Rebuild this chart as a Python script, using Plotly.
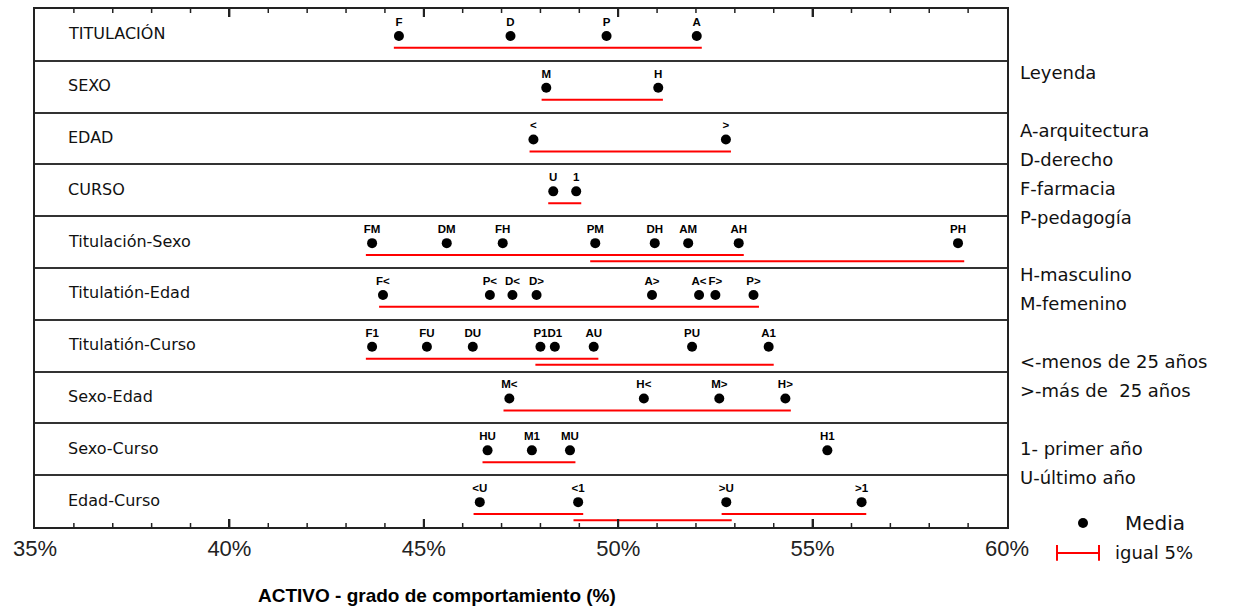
import plotly.graph_objects as go

# ---------------- data ----------------
row_names = ["TITULACIÓN", "SEXO", "EDAD", "CURSO", "Titulación-Sexo",
             "Titulatión-Edad", "Titulatión-Curso", "Sexo-Edad", "Sexo-Curso", "Edad-Curso"]

titulacion_labels = ["F", "D", "P", "A"]
titulacion_values = [44.36, 47.23, 49.70, 52.02]
titulacion_lines = [[44.23, 52.15]]

sexo_labels = ["M", "H"]
sexo_values = [48.15, 51.03]
sexo_lines = [[48.03, 51.15]]

edad_labels = ["<", ">"]
edad_values = [47.82, 52.77]
edad_lines = [[47.72, 52.90]]

curso_labels = ["U", "1"]
curso_values = [48.33, 48.92]
curso_lines = [[48.20, 49.05]]

tit_sexo_labels = ["FM", "DM", "FH", "PM", "DH", "AM", "AH", "PH"]
tit_sexo_values = [43.67, 45.59, 47.03, 49.41, 50.94, 51.80, 53.10, 58.74]
tit_sexo_lines = [[43.51, 53.23], [49.28, 58.90]]

tit_edad_labels = ["F<", "P<", "D<", "D>", "A>", "A<", "F>", "P>"]
tit_edad_values = [43.95, 46.70, 47.28, 47.90, 50.87, 52.08, 52.50, 53.48]
tit_edad_lines = [[43.85, 53.62]]

tit_curso_labels = ["F1", "FU", "DU", "P1", "D1", "AU", "PU", "A1"]
tit_curso_values = [43.67, 45.08, 46.26, 48.00, 48.37, 49.37, 51.90, 53.87]
tit_curso_lines = [[43.51, 49.49], [47.87, 54.00]]

sexo_edad_labels = ["M<", "H<", "M>", "H>"]
sexo_edad_values = [47.20, 50.66, 52.60, 54.30]
sexo_edad_lines = [[47.05, 54.44]]

sexo_curso_labels = ["HU", "M1", "MU", "H1"]
sexo_curso_values = [46.64, 47.78, 48.76, 55.38]
sexo_curso_lines = [[46.51, 48.90]]

edad_curso_labels = ["<U", "<1", ">U", ">1"]
edad_curso_values = [46.44, 48.97, 52.78, 56.26]
edad_curso_lines = [[46.28, 49.10], [48.85, 52.92], [52.66, 56.38]]

x_range = [35, 60]
x_major_step = 5
x_minor_step = 1
x_tick_suffix = "%"
x_title = "ACTIVO - grado de comportamiento (%)"

legend_texts = ["Leyenda", "A-arquitectura", "D-derecho", "F-farmacia", "P-pedagogía",
                "H-masculino", "M-femenino", "<-menos de 25 años", ">-más de  25 años",
                "1- primer año", "U-último año"]

groups = [
    (titulacion_labels, titulacion_values, titulacion_lines),
    (sexo_labels, sexo_values, sexo_lines),
    (edad_labels, edad_values, edad_lines),
    (curso_labels, curso_values, curso_lines),
    (tit_sexo_labels, tit_sexo_values, tit_sexo_lines),
    (tit_edad_labels, tit_edad_values, tit_edad_lines),
    (tit_curso_labels, tit_curso_values, tit_curso_lines),
    (sexo_edad_labels, sexo_edad_values, sexo_edad_lines),
    (sexo_curso_labels, sexo_curso_values, sexo_curso_lines),
    (edad_curso_labels, edad_curso_values, edad_curso_lines),
]

# ---------------- figure ----------------
W, H = 1239, 609
ML, MR, MT, MB = 35, 232, 7, 82
PW, PH = W - ML - MR, H - MT - MB
n_rows = len(row_names)

def px_x(px):
    return (px - ML) / PW

def px_y(py):
    return (H - MB - py) / PH

fig = go.Figure()
RED = "#ff0000"
annotations = []

for i, (labels, values, lines) in enumerate(groups):
    top = n_rows - i
    # homogeneous group lines (tiered when overlapping)
    tiers = []
    for (a, b) in lines:
        t = 0
        while t < len(tiers) and any(not (b < s or a > e) for s, e in tiers[t]):
            t += 1
        if t == len(tiers):
            tiers.append([])
        tiers[t].append((a, b))
        ly = top - 0.75 - 0.12 * t
        fig.add_trace(go.Scatter(x=[a, b], y=[ly, ly], mode="lines",
                                 line=dict(color=RED, width=2),
                                 hoverinfo="skip", showlegend=False))
    fig.add_trace(go.Scatter(
        x=values, y=[top - 0.52] * len(values), mode="markers+text",
        text=labels, textposition="top center",
        textfont=dict(family="Liberation Sans Narrow, Arial Narrow, Arial", size=11.5,
                      color="black", weight="bold"),
        marker=dict(color="black", size=10),
        showlegend=False, cliponaxis=False))
    annotations.append(dict(
        x=35.8, y=top - 0.48, xref="x", yref="y", text=row_names[i],
        showarrow=False, xanchor="left", yanchor="middle",
        font=dict(family="DejaVu Sans", size=16, color="#111")))

# right-side legend text
legend_y = [71, 129, 158, 187, 216, 274, 303, 361, 390, 448, 477]
for txt, py in zip(legend_texts, legend_y):
    annotations.append(dict(
        x=px_x(1018), y=px_y(py), xref="paper", yref="paper", text=txt,
        showarrow=False, xanchor="left", yanchor="middle",
        font=dict(family="DejaVu Sans", size=18, color="#111")))

annotations.append(dict(x=px_x(1123), y=px_y(523), xref="paper", yref="paper", text="Media",
                        showarrow=False, xanchor="left", yanchor="middle",
                        font=dict(family="DejaVu Sans", size=20, color="#111")))
annotations.append(dict(x=px_x(1113), y=px_y(553), xref="paper", yref="paper", text="igual 5%",
                        showarrow=False, xanchor="left", yanchor="middle",
                        font=dict(family="DejaVu Sans", size=18, color="#111")))
annotations.append(dict(x=px_x(437), y=px_y(596), xref="paper", yref="paper", text=x_title,
                        showarrow=False, xanchor="center", yanchor="middle",
                        font=dict(family="Arial, Liberation Sans", size=19, color="black",
                                  weight="bold")))

shapes = [
    dict(type="circle", xref="paper", yref="paper",
         x0=px_x(1078), x1=px_x(1088), y0=px_y(528), y1=px_y(518),
         fillcolor="black", line=dict(color="black", width=0)),
    dict(type="line", xref="paper", yref="paper", x0=px_x(1057), x1=px_x(1099),
         y0=px_y(553), y1=px_y(553), line=dict(color=RED, width=2)),
    dict(type="line", xref="paper", yref="paper", x0=px_x(1057), x1=px_x(1057),
         y0=px_y(545), y1=px_y(561), line=dict(color=RED, width=2)),
    dict(type="line", xref="paper", yref="paper", x0=px_x(1099), x1=px_x(1099),
         y0=px_y(545), y1=px_y(561), line=dict(color=RED, width=2)),
]

# inward tick marks on bottom and top edges (on the x scale)
for v in range(x_range[0] + 1, x_range[1]):
    major = (v - x_range[0]) % x_major_step == 0
    ln = (8 if major else 4) / PH
    w = 2 if major else 1.5
    for y0, y1 in ((0, ln), (1, 1 - ln)):
        shapes.append(dict(type="line", xref="x", yref="paper", x0=v, x1=v,
                           y0=y0, y1=y1, line=dict(color="#222", width=w)))

fig.update_layout(
    width=W, height=H,
    margin=dict(l=ML, r=MR, t=MT, b=MB),
    plot_bgcolor="white", paper_bgcolor="white",
    annotations=annotations, shapes=shapes,
    xaxis=dict(range=x_range, tickmode="linear", tick0=x_range[0], dtick=x_major_step,
               ticksuffix=x_tick_suffix,
               ticks="inside", ticklen=8, tickwidth=2, tickcolor="#222",
               showline=True, linecolor="#222", linewidth=2, mirror="ticks",
               showgrid=False, zeroline=False,
               tickfont=dict(family="Arial, Liberation Sans", size=22, color="#222"),
               ticklabelstandoff=1, fixedrange=True, layer="above traces"),
    yaxis=dict(range=[0, n_rows], tickvals=list(range(1, n_rows)), showticklabels=False,
               ticks="", showgrid=True, gridcolor="#333", gridwidth=2,
               showline=True, linecolor="#222", linewidth=2, mirror=True,
               zeroline=False, fixedrange=True),
)

fig.write_html("out.html")
